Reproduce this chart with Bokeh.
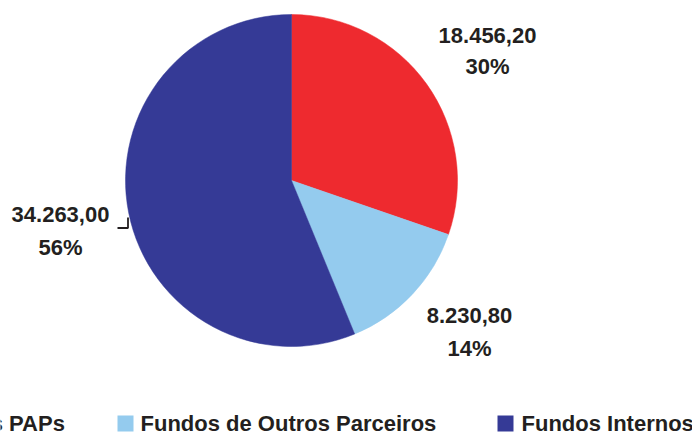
import math
from bokeh.plotting import figure
from bokeh.models import Range1d
from bokeh.core.properties import value
from bokeh.embed import file_html
from bokeh.resources import INLINE

# ---- data ----
categories = ["Fundos PAPs", "Fundos de Outros Parceiros", "Fundos Internos"]
values = [18456.20, 8230.80, 34263.00]
value_labels = ["18.456,20", "8.230,80", "34.263,00"]
pct_labels = ["30%", "14%", "56%"]
colors = ["#EE2A2F", "#94CBEE", "#353A96"]

FONT = "Liberation Sans"
TXT = "#231F20"

p = figure(width=692, height=435, output_backend="svg", toolbar_location=None,
           x_range=Range1d(0, 692), y_range=Range1d(-435, 0), min_border=0)
p.axis.visible = False
p.grid.visible = False
p.outline_line_color = None
p.background_fill_color = "white"
p.border_fill_color = "white"

# pie (screen coordinates: x right, y = -screen_y)
cx, cy, r = 291, -180, 166
total = sum(values)
start = math.pi / 2
starts, ends = [], []
for v in values:
    ang = 2 * math.pi * v / total
    starts.append(start)
    ends.append(start - ang)
    start -= ang
p.wedge(x=[cx] * 3, y=[cy] * 3, radius=r, start_angle=starts, end_angle=ends,
        direction="clock", fill_color=colors, line_color=colors, line_width=0.5)

# data labels
lab_x = [487, 469, 60]
lab_y1 = [-34.5, -315, -214]
lab_y2 = [-66, -348, -247]
p.text(x=lab_x, y=lab_y1, text=value_labels, text_font=value(FONT), text_font_style="bold",
       text_font_size="22px", text_color=TXT, text_align="center", text_baseline="middle")
p.text(x=lab_x, y=lab_y2, text=pct_labels, text_font=value(FONT), text_font_style="bold",
       text_font_size="22px", text_color=TXT, text_align="center", text_baseline="middle")

# leader line for the large slice
p.line(x=[117, 127.5, 127.5], y=[-227.5, -227.5, -217], line_color=TXT, line_width=1.8)

# legend
sq_x = [-100, 125, 505]
txt_x = [-77, 140, 521]
p.rect(x=sq_x, y=[-423] * 3, width=16, height=16, fill_color=colors, line_color=None)
p.text(x=txt_x, y=[-423] * 3, text=categories, text_font=value(FONT), text_font_style="bold",
       text_font_size="22px", text_color=TXT, text_align="left", text_baseline="middle")

open("out.html", "w").write(file_html(p, INLINE))
